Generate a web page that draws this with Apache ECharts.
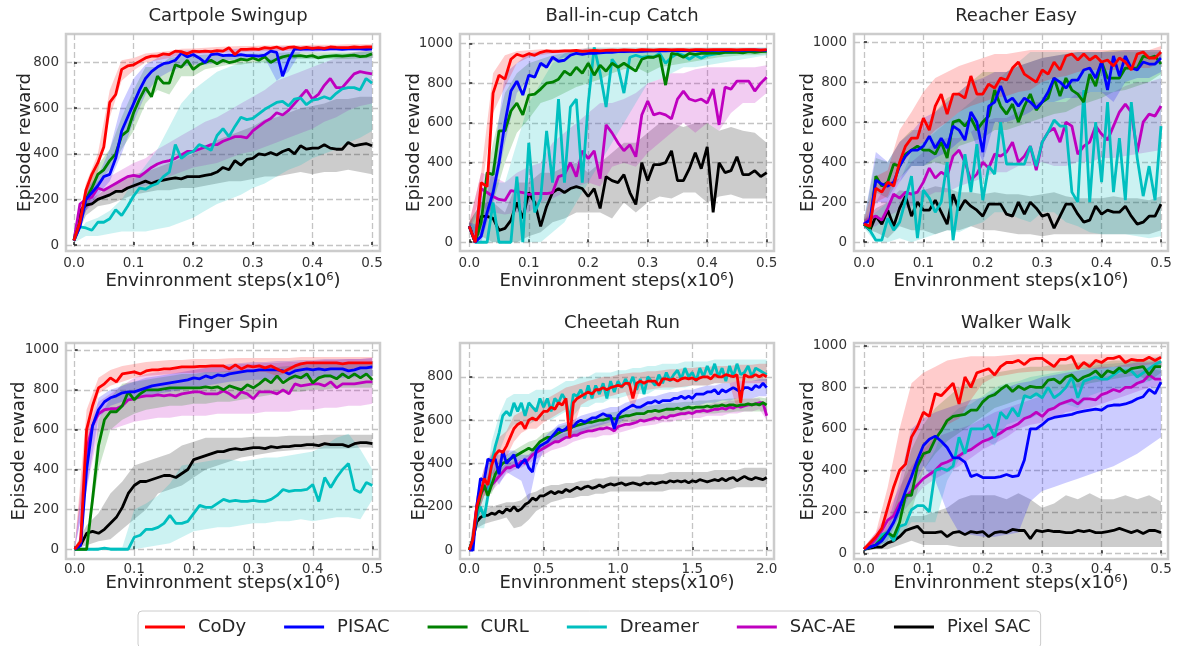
<!DOCTYPE html>
<html>
<head>
<meta charset="utf-8">
<script src="https://cdn.jsdelivr.net/npm/echarts@6.0.0/dist/echarts.min.js"></script>
<style>
  html, body { margin: 0; padding: 0; background: #fff; }
  #main { width: 1177px; height: 646px; }
</style>
</head>
<body>
<div id="main"></div>
<script>
var chart = echarts.init(document.getElementById('main'));

// x positions (million steps)
var steps05 = [0,0.01,0.02,0.03,0.04,0.05,0.06,0.07,0.08,0.09,0.1,0.11,0.12,0.13,0.14,0.15,0.16,0.17,0.18,0.19,0.2,0.21,0.22,0.23,0.24,0.25,0.26,0.27,0.28,0.29,0.3,0.31,0.32,0.33,0.34,0.35,0.36,0.37,0.38,0.39,0.4,0.41,0.42,0.43,0.44,0.45,0.46,0.47,0.48,0.49,0.5];
var band05 = [0,0.02,0.04,0.06,0.08,0.1,0.12,0.14,0.16,0.18,0.2,0.22,0.24,0.26,0.28,0.3,0.32,0.34,0.36,0.38,0.4,0.42,0.44,0.46,0.48,0.5];
var cheetahSteps = [0,0.025,0.05,0.075,0.1,0.125,0.15,0.175,0.2,0.225,0.25,0.275,0.3,0.325,0.35,0.375,0.4,0.425,0.45,0.475,0.5,0.525,0.55,0.575,0.6,0.625,0.65,0.675,0.7,0.725,0.75,0.775,0.8,0.825,0.85,0.875,0.9,0.925,0.95,0.975,1,1.025,1.05,1.075,1.1,1.125,1.15,1.175,1.2,1.225,1.25,1.275,1.3,1.325,1.35,1.375,1.4,1.425,1.45,1.475,1.5,1.525,1.55,1.575,1.6,1.625,1.65,1.675,1.7,1.725,1.75,1.775,1.8,1.825,1.85,1.875,1.9,1.925,1.95,1.975,2];
var cheetahBandSteps = [0,0.05,0.1,0.15,0.2,0.25,0.3,0.35,0.4,0.45,0.5,0.55,0.6,0.65,0.7,0.75,0.8,0.85,0.9,0.95,1,1.05,1.1,1.15,1.2,1.25,1.3,1.35,1.4,1.45,1.5,1.55,1.6,1.65,1.7,1.75,1.8,1.85,1.9,1.95,2];

// tick labels
var xTicks05 = [0, 0.1, 0.2, 0.3, 0.4, 0.5];
var xTicks2 = [0, 0.5, 1.0, 1.5, 2.0];
var yTicks800 = [0, 200, 400, 600, 800];
var yTicks1000 = [0, 200, 400, 600, 800, 1000];

var methods = ['CoDy', 'PISAC', 'CURL', 'Dreamer', 'SAC-AE', 'Pixel SAC'];
var titles = ['Cartpole Swingup', 'Ball-in-cup Catch', 'Reacher Easy', 'Finger Spin', 'Cheetah Run', 'Walker Walk'];

// ---- Cartpole Swingup
var cartpoleCoDy = [20,100,240,310,360,430,625,660,770,785,790,805,820,828,828,838,835,850,848,838,850,848,850,848,852,850,865,835,858,858,860,858,865,862,868,858,866,868,862,866,862,865,862,868,866,865,865,868,866,868,868];
var cartpolePISAC = [20,80,200,230,260,300,310,380,500,560,620,680,730,760,780,795,800,810,840,825,835,820,800,835,838,830,832,830,835,830,830,828,832,850,845,740,810,860,858,860,858,860,858,860,860,858,860,860,860,858,860];
var cartpoleCURL = [20,100,200,250,310,330,370,400,480,500,580,640,690,650,740,710,710,790,780,810,770,790,800,810,795,810,800,805,815,810,820,810,825,800,815,825,830,828,830,826,830,820,826,828,830,828,830,832,826,828,838];
var cartpoleDreamer = [20,80,75,65,100,100,115,155,130,170,215,250,245,260,270,300,320,440,380,400,410,440,430,415,480,510,475,520,560,550,555,575,595,610,625,630,610,640,645,615,635,640,650,640,665,685,690,690,680,730,710];
var cartpoleSACAE = [20,180,200,210,250,240,255,270,285,300,305,300,320,340,355,365,370,380,395,410,410,420,430,440,440,455,465,475,475,470,500,520,540,555,580,570,590,620,650,680,640,660,700,730,690,690,720,750,760,755,750];
var cartpolePixelSAC = [20,150,175,180,200,210,220,235,235,250,260,270,280,270,280,285,290,295,290,300,300,300,305,310,320,340,330,370,350,375,380,400,395,405,395,410,420,400,435,420,425,425,440,425,420,420,450,435,440,445,435];
var cartpoleCoDyLo = [10,200,320,560,720,765,800,810,820,835,835,840,842,845,845,848,850,850,852,852,854,855,855,856,856,856];
var cartpoleCoDyHi = [30,270,400,680,810,820,840,845,850,860,862,865,868,870,872,872,875,875,876,876,878,878,878,880,880,880];
var cartpolePISACLo = [10,150,220,280,400,540,660,730,760,780,790,790,800,810,815,815,820,720,760,845,845,848,848,848,850,850];
var cartpolePISACHi = [30,250,300,420,620,730,790,820,840,850,855,855,855,858,860,862,862,870,870,870,870,870,870,870,870,870];
var cartpoleCURLLo = [10,150,270,330,420,500,620,680,660,740,740,770,780,790,790,800,800,810,815,815,815,815,815,815,818,820];
var cartpoleCURLHi = [30,250,350,420,560,680,780,780,820,830,830,835,835,835,838,840,840,842,845,845,845,845,845,845,848,850];
var cartpoleDreamerLo = [10,40,40,50,60,60,60,70,80,100,120,150,180,200,220,250,270,300,330,350,380,400,420,450,470,500];
var cartpoleDreamerHi = [30,100,120,150,200,280,350,420,520,620,680,720,760,780,800,800,810,820,820,830,830,835,840,840,845,850];
var cartpoleSACAELo = [10,150,200,220,240,250,260,280,300,320,340,350,360,380,400,410,430,450,470,490,510,540,560,590,610,620];
var cartpoleSACAEHi = [30,230,280,300,330,360,380,420,450,480,510,540,560,590,620,650,680,720,740,760,780,800,820,840,850,860];
var cartpolePixelSACLo = [10,130,170,180,200,220,230,240,240,250,250,260,270,280,280,290,300,300,310,320,310,320,320,330,320,310];
var cartpolePixelSACHi = [30,190,220,260,290,310,320,340,360,380,400,430,460,480,500,520,550,560,580,600,610,620,640,640,650,650];

// ---- Ball-in-cup Catch
var ballcupCoDy = [80,0,300,280,750,840,820,920,945,935,948,940,955,962,958,960,962,962,965,960,962,965,962,965,966,965,967,966,965,968,967,966,968,968,967,968,968,966,968,968,967,968,968,968,968,967,968,968,968,966,968];
var ballcupPISAC = [80,0,30,150,250,400,600,760,810,740,840,830,900,880,930,910,915,940,950,945,950,950,952,955,955,958,958,960,960,960,962,962,962,962,963,963,963,964,964,964,964,965,965,965,965,965,965,966,966,966,965];
var ballcupCURL = [80,0,100,350,340,560,560,660,700,640,740,745,770,800,805,820,860,840,880,850,900,840,890,860,900,880,900,880,860,920,930,930,940,790,950,945,930,950,945,950,950,952,950,955,955,955,952,958,955,958,960];
var ballcupDreamer = [80,0,0,0,200,0,0,0,330,0,500,150,220,560,300,720,300,680,720,300,700,980,850,680,920,880,750,930,940,930,935,930,950,900,930,950,940,920,940,925,940,945,950,955,955,958,960,960,960,962,965];
var ballcupSACAE = [80,0,270,250,230,215,210,260,255,250,240,245,245,245,250,330,340,400,330,460,420,460,320,590,550,500,460,490,430,640,710,640,650,640,620,720,760,720,710,720,700,770,590,780,770,810,810,810,760,800,830];
var ballcupPixelSAC = [80,0,130,130,120,60,70,110,200,120,250,200,80,180,250,270,250,270,280,270,230,270,170,330,310,300,340,250,190,400,310,390,390,400,460,310,310,370,450,370,480,150,400,350,360,430,340,340,360,330,350];
var ballcupCoDyLo = [60,250,650,780,900,930,940,950,952,955,955,958,958,958,960,960,960,960,960,960,960,960,960,960,960,960];
var ballcupCoDyHi = [100,350,850,940,960,965,970,972,972,972,975,975,975,975,975,975,975,975,975,975,975,975,975,975,975,975];
var ballcupPISACLo = [60,0,200,500,750,820,880,910,930,940,945,948,950,950,952,952,955,955,955,955,955,955,955,955,955,955];
var ballcupPISACHi = [100,80,400,850,900,950,960,965,965,968,970,970,970,970,972,972,972,972,972,972,972,972,972,972,972,972];
var ballcupCURLLo = [60,30,200,400,550,620,700,720,750,780,800,820,850,870,880,850,880,890,900,910,920,930,935,940,940,945];
var ballcupCURLHi = [100,200,500,750,850,900,920,940,950,960,965,965,965,968,968,968,968,968,968,970,970,970,970,970,970,970];
var ballcupDreamerLo = [60,0,0,0,0,0,0,50,100,200,300,400,500,600,700,800,820,850,880,880,890,900,910,920,930,940];
var ballcupDreamerHi = [100,50,300,300,500,700,800,900,950,960,980,980,980,980,980,980,980,980,980,980,980,980,980,980,980,980];
var ballcupSACAELo = [60,180,150,140,150,150,200,220,250,280,300,280,380,400,380,450,500,550,600,550,600,560,650,700,700,750];
var ballcupSACAEHi = [100,350,330,300,350,380,400,500,550,600,650,700,700,720,750,800,820,850,850,870,880,880,880,880,880,890];
var ballcupPixelSACLo = [60,30,0,0,0,30,50,100,120,150,150,150,120,200,150,200,230,220,250,250,200,230,240,220,220,220];
var ballcupPixelSACHi = [100,200,200,150,300,300,350,350,380,400,350,400,450,500,500,550,600,600,580,600,600,560,580,560,550,500];

// ---- Reacher Easy
var reacherCoDy = [90,80,270,250,300,280,400,480,520,520,620,560,680,740,640,740,740,720,830,740,740,790,770,820,810,870,900,840,820,800,860,840,900,860,930,940,910,940,910,930,900,910,880,920,900,860,940,950,920,920,950];
var reacherPISAC = [90,110,310,290,280,300,380,430,460,460,480,530,470,520,470,580,560,510,650,600,450,680,700,780,700,720,680,720,700,670,700,750,820,800,770,810,810,860,870,820,900,760,930,830,930,870,860,900,890,890,920];
var reacherCURL = [90,70,330,280,300,390,380,440,460,480,460,460,440,500,420,600,610,580,620,560,600,630,760,680,640,690,600,680,740,660,700,720,820,730,820,760,740,700,840,780,900,820,820,820,870,870,870,930,920,930,890];
var reacherDreamer = [90,60,10,10,120,60,100,210,330,20,260,220,150,200,400,10,220,440,250,490,210,380,340,600,390,390,390,390,480,380,500,550,610,580,580,250,200,760,200,600,300,700,250,520,210,700,420,230,380,210,580];
var reacherSACAE = [90,120,130,110,170,240,220,250,240,250,300,370,320,350,330,430,460,400,310,340,400,370,440,430,450,500,400,430,480,360,500,550,570,500,600,580,440,480,500,580,540,510,580,650,690,650,450,600,640,630,680];
var reacherPixelSAC = [90,60,130,90,160,80,170,230,130,200,160,160,210,150,90,240,160,210,180,160,130,190,190,190,140,130,200,140,200,170,130,140,70,130,190,190,140,100,110,180,140,160,150,150,180,130,90,100,130,130,190];
var reacherCoDyLo = [70,200,230,380,450,500,560,600,650,680,700,720,730,750,760,800,820,830,850,860,860,860,860,870,870,900];
var reacherCoDyHi = [110,330,360,560,650,750,820,850,880,900,920,940,940,950,960,960,960,960,960,960,960,960,960,960,960,980];
var reacherPISACLo = [70,200,200,300,380,380,420,450,500,550,400,600,600,620,650,700,700,720,720,750,750,700,800,820,820,850];
var reacherPISACHi = [110,450,400,500,550,620,650,700,750,800,820,850,850,880,900,920,930,940,950,950,950,950,960,960,960,960];
var reacherCURLLo = [70,250,220,320,380,380,400,380,480,500,520,560,560,580,600,620,640,650,680,700,720,750,760,780,800,840];
var reacherCURLHi = [110,420,400,500,560,560,650,720,750,800,850,850,850,880,900,920,930,940,950,950,950,960,960,960,960,960];
var reacherDreamerLo = [70,0,0,20,0,20,40,60,50,80,100,150,150,120,100,150,150,100,80,50,40,40,40,30,20,30];
var reacherDreamerHi = [110,150,200,300,450,500,550,600,650,700,750,800,850,900,950,950,950,950,950,950,950,950,950,950,950,950];
var reacherSACAELo = [70,80,130,160,180,220,250,250,280,300,320,350,350,380,380,400,380,380,400,400,420,420,430,440,450,460];
var reacherSACAEHi = [110,200,300,320,400,450,500,520,520,550,600,620,620,650,700,700,700,700,750,750,750,750,780,800,800,820];
var reacherPixelSACLo = [70,50,20,80,60,60,40,60,60,80,60,60,50,40,40,30,40,40,40,40,40,40,40,40,40,60];
var reacherPixelSACHi = [110,170,200,260,250,260,280,270,250,250,240,250,240,240,230,240,250,230,220,220,220,230,220,220,210,230];

// ---- Finger Spin
var fingerCoDy = [0,40,600,720,810,830,860,840,880,885,890,880,895,900,900,905,905,910,915,915,915,918,918,920,920,920,905,925,905,920,915,920,910,920,905,890,905,920,930,935,935,935,935,935,935,930,935,935,935,935,935];
var fingerPISAC = [0,20,400,620,700,740,760,770,785,790,790,800,810,820,825,830,835,840,845,850,860,855,870,860,875,870,880,885,890,895,895,900,900,900,900,895,880,895,900,905,900,905,900,905,905,905,895,900,910,910,915];
var fingerCURL = [0,0,0,250,520,650,690,690,720,790,750,780,800,800,800,805,810,810,810,810,810,810,815,810,815,800,820,810,800,825,810,830,855,835,870,835,855,870,860,880,835,860,870,870,855,880,860,880,860,880,850];
var fingerDreamer = [0,0,0,0,0,5,0,0,0,0,60,70,100,100,110,130,170,130,130,140,180,220,210,210,230,250,240,245,240,240,245,240,240,250,270,300,290,295,295,300,325,240,360,310,360,400,430,300,285,335,320];
var fingerSACAE = [0,30,500,620,680,700,705,705,720,750,755,765,770,770,775,770,775,770,780,785,790,790,780,780,780,795,780,760,790,780,755,790,790,790,780,800,780,830,820,825,830,830,820,840,810,830,830,830,835,840,840];
var fingerPixelSAC = [0,20,80,90,80,100,130,160,210,280,320,340,340,350,360,370,370,360,380,400,450,460,470,480,490,490,500,505,500,505,510,510,505,515,510,515,515,520,520,525,525,520,530,525,525,525,515,530,535,535,530];
var fingerCoDyLo = [0,450,780,820,840,860,870,875,880,885,885,888,888,890,890,890,890,870,890,895,900,900,905,905,905,905];
var fingerCoDyHi = [10,700,860,900,920,930,940,945,950,950,955,955,955,958,960,960,960,960,960,965,965,965,965,965,965,965];
var fingerPISACLo = [0,300,660,720,740,760,770,780,790,800,810,820,830,840,845,850,850,850,850,855,855,860,860,860,865,870];
var fingerPISACHi = [10,500,760,800,820,840,860,870,880,890,900,910,920,930,935,940,940,945,945,950,950,955,955,955,955,960];
var fingerCURLLo = [0,0,400,600,650,680,700,710,720,720,730,730,740,740,750,760,770,780,790,790,800,800,810,810,810,810];
var fingerCURLHi = [10,0,650,760,830,840,850,860,870,880,880,890,890,895,900,905,910,915,920,925,930,935,935,935,940,940];
var fingerDreamerLo = [0,0,0,0,0,0,10,20,30,60,90,100,110,110,120,130,130,140,140,150,140,150,160,160,150,250];
var fingerDreamerHi = [0,0,10,10,10,200,230,270,330,420,430,440,450,450,440,450,460,460,470,480,490,520,560,580,500,400];
var fingerSACAELo = [0,300,590,600,620,640,650,660,660,670,670,670,680,680,680,680,690,690,690,700,700,710,710,720,720,730];
var fingerSACAEHi = [10,600,740,780,820,860,880,890,900,910,910,920,920,920,930,930,935,935,940,940,945,950,950,955,955,960];
var fingerPixelSACLo = [0,20,40,50,100,150,200,280,300,320,360,400,420,440,460,470,480,490,495,500,500,505,505,505,510,510];
var fingerPixelSACHi = [10,120,180,280,340,420,440,460,480,520,540,560,560,560,560,565,565,565,570,570,570,575,575,575,575,575];

// ---- Cheetah Run
var cheetahCoDy = [0,50,200,260,330,300,390,440,460,450,480,520,560,580,590,560,600,610,600,620,640,640,660,650,680,670,700,520,680,700,710,720,730,720,740,740,750,740,750,755,760,755,770,770,700,770,780,770,780,780,780,760,790,790,785,790,780,790,795,790,795,785,795,800,800,790,810,800,800,810,805,800,810,680,810,800,800,810,800,810,800];
var cheetahPISAC = [0,0,200,330,320,420,410,420,350,460,400,420,440,380,400,420,380,360,460,480,490,500,520,540,560,550,560,580,570,590,600,590,600,610,610,620,630,620,620,560,620,640,650,660,670,660,660,670,680,680,690,680,690,690,690,700,700,710,700,710,700,720,720,720,730,730,740,720,740,730,740,750,740,730,750,750,740,760,750,770,750];
var cheetahCURL = [0,50,180,250,300,250,300,350,380,400,410,420,430,440,450,460,470,460,480,500,510,520,520,530,540,550,555,560,570,575,580,585,590,590,595,600,600,605,610,605,610,615,620,620,625,630,630,630,640,640,645,640,645,650,650,650,655,650,655,660,655,660,660,660,665,660,665,665,670,665,670,670,665,670,670,675,670,675,670,680,670];
var cheetahDreamer = [0,50,150,200,150,250,400,480,540,620,640,620,680,640,680,620,680,660,640,700,660,700,640,700,680,720,690,600,720,710,740,700,760,700,760,720,770,700,780,730,780,750,790,760,800,740,790,720,800,780,760,810,770,820,780,810,830,790,840,800,820,780,840,800,850,810,860,800,840,780,850,800,860,810,820,850,800,840,830,820,810];
var cheetahSACAE = [0,50,200,260,280,290,300,320,340,360,380,380,390,390,410,400,420,440,450,460,470,480,490,500,500,510,520,520,530,530,540,545,550,550,555,560,560,565,560,550,570,575,580,580,585,590,600,595,600,605,610,605,615,610,620,620,625,630,630,635,630,640,640,645,640,645,650,650,655,650,660,655,665,660,665,670,670,675,680,680,620];
var cheetahPixelSAC = [0,50,130,150,160,160,170,165,180,170,190,180,200,180,190,210,220,240,230,250,250,260,270,260,270,265,280,270,280,290,280,290,295,285,290,300,290,300,305,300,305,310,300,305,310,305,300,310,305,310,305,310,315,310,320,315,320,315,320,310,320,315,325,320,315,320,325,320,330,320,330,335,320,330,340,330,325,335,330,325,335];
var cheetahCoDyLo = [0,150,250,330,400,430,500,540,560,560,590,610,630,650,560,670,690,700,710,710,720,730,650,740,740,745,750,750,750,755,760,760,760,770,770,770,650,770,770,770,770];
var cheetahCoDyHi = [0,250,380,450,520,550,620,640,660,660,690,710,730,750,760,770,780,790,800,800,810,815,820,820,825,825,830,835,835,840,840,845,845,850,850,850,855,855,855,860,860];
var cheetahPISACLo = [0,150,280,360,300,360,340,320,220,380,460,480,510,520,530,540,560,570,580,590,580,610,620,620,640,640,650,650,660,660,670,670,680,680,690,690,700,700,700,710,710];
var cheetahPISACHi = [0,250,380,440,440,460,460,440,440,480,520,550,580,590,600,620,630,640,650,660,660,680,690,700,710,710,720,730,730,740,740,750,760,760,770,770,780,780,780,790,790];
var cheetahCURLLo = [0,150,250,260,340,370,400,420,430,450,470,490,500,520,530,540,550,560,570,575,580,590,590,600,600,610,610,620,620,620,630,630,630,630,635,635,640,640,640,640,640];
var cheetahCURLHi = [0,230,330,350,420,440,460,480,500,510,540,550,570,580,590,600,610,620,630,635,640,645,650,660,665,670,675,680,680,685,685,690,690,695,695,700,700,700,700,705,700];
var cheetahDreamerLo = [0,100,100,300,450,540,580,580,580,600,600,600,620,640,620,660,660,680,680,700,700,710,720,720,720,740,740,740,750,750,760,760,760,770,770,770,780,780,780,780,780];
var cheetahDreamerHi = [0,200,250,500,620,700,720,720,720,740,740,740,760,780,780,800,800,820,820,820,830,830,840,840,850,850,860,860,860,870,870,870,870,880,880,880,880,880,880,880,880];
var cheetahSACAELo = [0,150,250,270,310,350,370,380,400,420,440,460,470,480,500,510,520,520,530,530,540,550,560,570,575,580,590,590,600,600,610,610,620,620,620,630,630,640,640,650,600];
var cheetahSACAEHi = [0,250,310,330,370,400,410,420,440,470,500,510,530,540,550,560,570,580,590,590,600,610,620,620,630,635,640,650,650,660,660,670,670,680,680,690,690,700,700,700,650];
var cheetahPixelSACLo = [0,100,120,130,140,150,100,110,140,180,200,220,230,240,240,250,250,260,260,270,270,270,270,270,270,270,270,280,280,280,280,280,280,280,280,280,290,290,290,290,290];
var cheetahPixelSACHi = [0,160,190,200,210,220,220,230,260,270,290,300,300,310,310,320,320,330,330,340,340,340,340,340,350,350,350,360,360,360,360,360,360,370,370,370,370,380,380,380,380];

// ---- Walker Walk
var walkerCoDy = [20,50,80,120,220,320,400,430,560,610,680,660,770,760,790,820,720,850,800,870,880,890,860,900,920,920,930,910,935,940,940,920,900,935,935,950,890,920,900,930,920,940,940,950,920,935,930,930,945,930,945];
var walkerPISAC = [20,30,40,60,100,150,220,300,370,450,520,550,565,540,510,460,460,440,370,380,365,365,365,370,380,370,375,450,600,600,620,645,655,660,665,670,680,685,690,695,690,710,715,715,720,730,745,755,790,770,825];
var walkerCURL = [20,30,40,70,100,80,150,280,280,420,480,490,550,590,640,660,665,670,690,690,730,755,765,790,810,780,805,790,805,800,800,835,840,820,850,860,830,850,860,880,850,880,870,895,870,890,895,900,860,900,900];
var walkerDreamer = [20,30,40,90,100,60,130,140,210,230,230,200,400,410,400,420,560,480,600,600,600,620,560,680,650,700,660,760,750,770,750,800,750,770,800,850,750,830,840,850,840,840,860,880,880,880,850,870,890,910,925];
var walkerSACAE = [20,40,70,110,160,180,240,270,300,330,360,380,400,430,440,455,470,490,500,520,540,550,565,580,600,610,625,650,660,680,660,690,700,720,730,740,720,745,745,740,765,775,790,780,800,800,820,830,860,840,840];
var walkerPixelSAC = [20,25,30,30,50,60,80,110,120,130,100,100,100,105,80,100,105,90,105,100,105,80,100,105,100,115,110,110,70,110,105,110,105,105,100,100,110,105,110,100,100,105,110,120,110,100,110,95,110,110,100];
var walkerCoDyLo = [10,40,120,250,380,450,550,620,650,740,820,850,860,870,875,880,880,880,890,890,890,900,900,900,910,910];
var walkerCoDyHi = [30,100,320,600,820,870,900,930,940,950,950,950,955,960,960,960,960,960,960,960,960,960,960,960,960,960];
var walkerPISACLo = [10,30,60,180,300,420,350,200,100,90,80,80,90,100,250,300,320,340,360,380,400,420,450,480,520,560];
var walkerPISACHi = [30,60,140,350,600,650,680,700,720,740,750,780,800,820,830,850,860,870,880,890,900,900,910,920,920,930];
var walkerCURLLo = [10,30,60,120,200,400,480,540,580,620,660,700,720,740,750,760,780,800,800,820,830,840,850,860,830,870];
var walkerCURLHi = [30,60,120,300,500,620,700,750,800,830,850,870,880,890,900,900,910,910,920,920,920,930,930,930,930,930];
var walkerDreamerLo = [10,30,50,80,150,150,150,350,450,500,550,520,620,640,650,680,700,720,700,760,780,790,800,810,830,850];
var walkerDreamerHi = [30,60,120,200,300,400,500,650,700,720,760,800,820,830,850,860,870,880,890,900,910,915,920,930,940,950];
var walkerSACAELo = [10,40,100,180,250,320,360,390,420,460,500,530,560,600,620,630,650,680,690,700,720,740,760,780,800,810];
var walkerSACAEHi = [30,100,200,320,420,500,560,580,600,620,650,680,700,720,740,760,780,800,820,840,850,860,870,880,890,880];
var walkerPixelSACLo = [10,20,20,40,60,40,40,40,30,30,30,30,30,30,30,30,30,30,30,30,30,30,30,30,30,30];
var walkerPixelSACHi = [30,40,60,120,180,180,200,220,260,280,280,280,260,290,260,220,240,280,260,290,260,260,280,260,280,250];

// table of panels, built from the arrays above
var panels = [
  { xs: steps05, bxs: band05, xTicks: xTicks05, yTicks: yTicks800,
    mean: [cartpoleCoDy, cartpolePISAC, cartpoleCURL, cartpoleDreamer, cartpoleSACAE, cartpolePixelSAC],
    lo: [cartpoleCoDyLo, cartpolePISACLo, cartpoleCURLLo, cartpoleDreamerLo, cartpoleSACAELo, cartpolePixelSACLo],
    hi: [cartpoleCoDyHi, cartpolePISACHi, cartpoleCURLHi, cartpoleDreamerHi, cartpoleSACAEHi, cartpolePixelSACHi] },
  { xs: steps05, bxs: band05, xTicks: xTicks05, yTicks: yTicks1000,
    mean: [ballcupCoDy, ballcupPISAC, ballcupCURL, ballcupDreamer, ballcupSACAE, ballcupPixelSAC],
    lo: [ballcupCoDyLo, ballcupPISACLo, ballcupCURLLo, ballcupDreamerLo, ballcupSACAELo, ballcupPixelSACLo],
    hi: [ballcupCoDyHi, ballcupPISACHi, ballcupCURLHi, ballcupDreamerHi, ballcupSACAEHi, ballcupPixelSACHi] },
  { xs: steps05, bxs: band05, xTicks: xTicks05, yTicks: yTicks1000,
    mean: [reacherCoDy, reacherPISAC, reacherCURL, reacherDreamer, reacherSACAE, reacherPixelSAC],
    lo: [reacherCoDyLo, reacherPISACLo, reacherCURLLo, reacherDreamerLo, reacherSACAELo, reacherPixelSACLo],
    hi: [reacherCoDyHi, reacherPISACHi, reacherCURLHi, reacherDreamerHi, reacherSACAEHi, reacherPixelSACHi] },
  { xs: steps05, bxs: band05, xTicks: xTicks05, yTicks: yTicks1000,
    mean: [fingerCoDy, fingerPISAC, fingerCURL, fingerDreamer, fingerSACAE, fingerPixelSAC],
    lo: [fingerCoDyLo, fingerPISACLo, fingerCURLLo, fingerDreamerLo, fingerSACAELo, fingerPixelSACLo],
    hi: [fingerCoDyHi, fingerPISACHi, fingerCURLHi, fingerDreamerHi, fingerSACAEHi, fingerPixelSACHi] },
  { xs: cheetahSteps, bxs: cheetahBandSteps, xTicks: xTicks2, yTicks: yTicks800,
    mean: [cheetahCoDy, cheetahPISAC, cheetahCURL, cheetahDreamer, cheetahSACAE, cheetahPixelSAC],
    lo: [cheetahCoDyLo, cheetahPISACLo, cheetahCURLLo, cheetahDreamerLo, cheetahSACAELo, cheetahPixelSACLo],
    hi: [cheetahCoDyHi, cheetahPISACHi, cheetahCURLHi, cheetahDreamerHi, cheetahSACAEHi, cheetahPixelSACHi] },
  { xs: steps05, bxs: band05, xTicks: xTicks05, yTicks: yTicks1000,
    mean: [walkerCoDy, walkerPISAC, walkerCURL, walkerDreamer, walkerSACAE, walkerPixelSAC],
    lo: [walkerCoDyLo, walkerPISACLo, walkerCURLLo, walkerDreamerLo, walkerSACAELo, walkerPixelSACLo],
    hi: [walkerCoDyHi, walkerPISACHi, walkerCURLHi, walkerDreamerHi, walkerSACAEHi, walkerPixelSACHi] }
];

// layout / style
var colors = ['#ff0000', '#0000ff', '#008000', '#00bfbf', '#bf00bf', '#000000'];
var drawOrder = [5, 4, 3, 2, 1, 0];
var gridLefts = [66, 460, 854, 66, 460, 854];
var gridTops = [34, 34, 34, 343, 343, 343];
var gridHeights = [217, 217, 217, 216, 216, 216];
var titleTops = [2, 2, 2, 309, 309, 309];
var xRanges = [[-0.0134, 0.5134], [-0.0156, 0.5123], [-0.0168, 0.5118], [-0.0146, 0.5129], [-0.0625, 2.049], [-0.0168, 0.5118]];
var yRanges = [[-26, 925], [-44, 1047], [-44, 1040], [-49, 1035], [-41.5, 956], [-27.5, 1014]];
var yNameGaps = [32, 37, 37, 38, 32, 37];
var xNameGaps = [21, 21, 21, 15, 15, 15];
var xLabelMargins = [5, 5, 5, 3, 3, 3];
var textColor = '#262626';
var font = 'DejaVu Sans';

function pairs(xs, ys) {
  return ys.map(function (y, i) { return [xs[i], y]; });
}

// shaded band (lo..hi) drawn as one polygon through the axis scales
function bandSeries(g, xs, lo, hi, color) {
  return {
    type: 'custom', xAxisIndex: g, yAxisIndex: g, silent: true,
    data: xs.map(function (x, i) { return [x, lo[i], hi[i]]; }),
    encode: { x: 0, y: [1, 2] },
    renderItem: function (params, api) {
      if (params.dataIndex !== 0) return null;
      var upper = [], lower = [];
      for (var i = 0; i < xs.length; i++) {
        upper.push(api.coord([xs[i], hi[i]]));
        lower.unshift(api.coord([xs[i], lo[i]]));
      }
      return {
        type: 'polygon',
        shape: { points: upper.concat(lower) },
        style: { fill: color, opacity: 0.2 }
      };
    }
  };
}

var grids = [], xAxes = [], yAxes = [], titleList = [], series = [];

panels.forEach(function (p, g) {
  grids.push({
    left: gridLefts[g], top: gridTops[g], width: 314, height: gridHeights[g],
    show: true, borderColor: '#cccccc', borderWidth: 2.5, backgroundColor: '#ffffff',
    containLabel: false, outerBoundsMode: 'none'
  });
  titleList.push({
    text: titles[g], left: gridLefts[g] + 157, top: titleTops[g], textAlign: 'center',
    textStyle: { fontFamily: font, fontSize: 18, fontWeight: 'normal', color: textColor }
  });
  xAxes.push({
    type: 'value', gridIndex: g, min: xRanges[g][0], max: xRanges[g][1],
    name: 'Envinronment steps(x10\u2076)', nameLocation: 'middle', nameGap: xNameGaps[g],
    nameMoveOverlap: false,
    nameTextStyle: { fontFamily: font, fontSize: 18, color: textColor },
    axisLine: { show: false },
    axisTick: { show: true, inside: true, length: 3, customValues: p.xTicks,
      lineStyle: { color: '#222', width: 1.5 } },
    axisLabel: { customValues: p.xTicks, margin: xLabelMargins[g], fontFamily: font, fontSize: 13.5, color: '#333',
      formatter: function (v) { return v.toFixed(1); } },
    splitLine: { show: true, lineStyle: { color: '#c4c4c4', width: 1.3, type: [6, 3] } }
  });
  yAxes.push({
    type: 'value', gridIndex: g, min: yRanges[g][0], max: yRanges[g][1],
    name: 'Episode reward', nameLocation: 'middle', nameGap: yNameGaps[g],
    nameMoveOverlap: false,
    nameTextStyle: { fontFamily: font, fontSize: 18, color: textColor },
    axisLine: { show: false },
    axisTick: { show: true, inside: true, length: 3, customValues: p.yTicks,
      lineStyle: { color: '#222', width: 1.5 } },
    axisLabel: { customValues: p.yTicks, margin: 7, fontFamily: font, fontSize: 13.5, color: '#333',
      formatter: function (v) { return String(Math.round(v)); } },
    splitLine: { show: true, lineStyle: { color: '#c4c4c4', width: 1.3, type: [6, 3] } }
  });

  // shaded bands first
  drawOrder.forEach(function (m) {
    series.push(bandSeries(g, p.bxs, p.lo[m], p.hi[m], colors[m]));
  });
  // mean curves
  drawOrder.forEach(function (m) {
    series.push({
      type: 'line', name: methods[m], xAxisIndex: g, yAxisIndex: g,
      data: pairs(p.xs, p.mean[m]),
      symbol: 'none', showSymbol: false, color: colors[m],
      lineStyle: { color: colors[m], width: 2.8 }
    });
  });
});

var option = {
  animation: false,
  backgroundColor: '#ffffff',
  title: titleList,
  grid: grids,
  xAxis: xAxes,
  yAxis: yAxes,
  legend: {
    data: methods,
    left: 138, top: 611,
    padding: [7, 10, 12, 7],
    icon: 'rect', itemWidth: 40, itemHeight: 3, itemGap: 38,
    borderColor: '#cccccc', borderWidth: 1, borderRadius: 4, backgroundColor: '#ffffff',
    textStyle: { fontFamily: font, fontSize: 18, color: textColor, padding: [0, 0, 0, 8] }
  },
  series: series
};

chart.setOption(option);
</script>
</body>
</html>
